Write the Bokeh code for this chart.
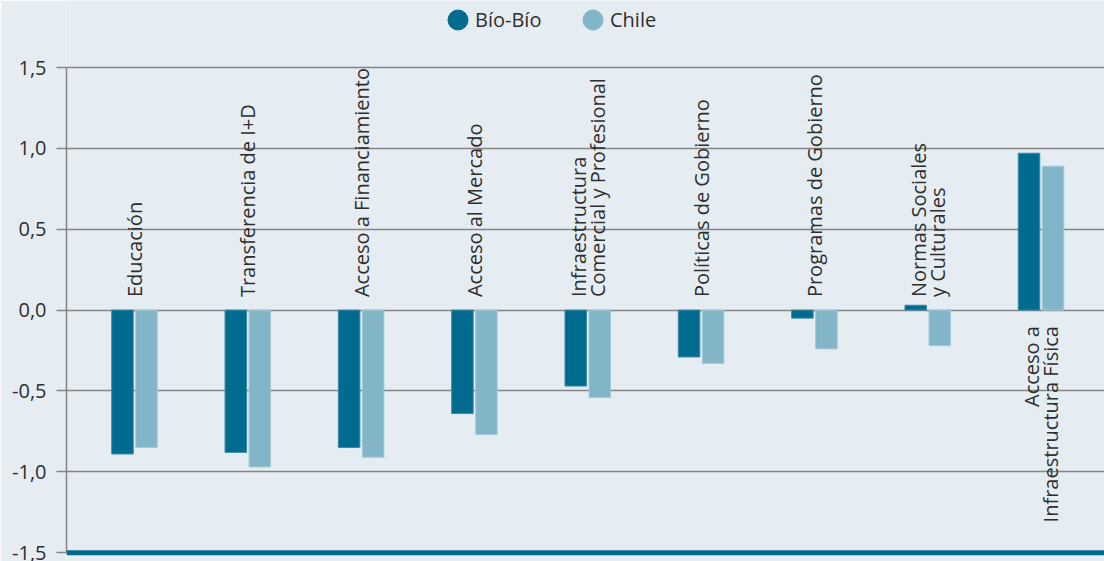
import math
from bokeh.plotting import figure
from bokeh.models import (Range1d, ColumnDataSource, Legend, LegendItem,
                          FixedTicker, Span)
from bokeh.transform import dodge
from bokeh.core.properties import value
from bokeh.embed import file_html
from bokeh.resources import INLINE

# ---------------- data ----------------
categories = [
    "Educación",
    "Transferencia de I+D",
    "Acceso a Financiamiento",
    "Acceso al Mercado",
    "Infraestructura\nComercial y Profesional",
    "Políticas de Gobierno",
    "Programas de Gobierno",
    "Normas Sociales\ny Culturales",
    "Acceso a\nInfraestructura Física",
]
biobio = [-0.89, -0.88, -0.85, -0.64, -0.47, -0.29, -0.05, 0.03, 0.97]
chile = [-0.85, -0.97, -0.91, -0.77, -0.54, -0.33, -0.24, -0.22, 0.89]
series_names = ["Bío-Bío", "Chile"]
y_ticks = [-1.5, -1.0, -0.5, 0.0, 0.5, 1.0, 1.5]
y_tick_labels = ["-1,5", "-1,0", "-0,5", "0,0", "0,5", "1,0", "1,5"]

# ---------------- style ----------------
BIO_COLOR = "#006B8F"
CHILE_COLOR = "#82B5C7"
BG = "#E5EDF3"
TEXT = "#2E2E2E"
GRID = "#858585"
FONT = "Open Sans"

idx = list(range(len(categories)))
src = ColumnDataSource(dict(x=idx, cat=categories, bio=biobio, chile=chile))

above = [i for i in idx if biobio[i] + chile[i] < 0]
below = [i for i in idx if biobio[i] + chile[i] >= 0]
src_above = ColumnDataSource(dict(x=above, y=[0] * len(above),
                                  cat=[categories[i] for i in above]))
src_below = ColumnDataSource(dict(x=below, y=[0] * len(below),
                                  cat=[categories[i] for i in below]))

p = figure(width=1104, height=561,
           x_range=Range1d(-0.6, 8.56), y_range=Range1d(-1.53, 1.9144),
           output_backend="svg", toolbar_location=None,
           min_border_left=66, min_border_right=0,
           min_border_top=0, min_border_bottom=4,
           background_fill_color=BG, border_fill_color=BG,
           outline_line_color=None)

p.xaxis.visible = False
p.xgrid.visible = False

ticker = FixedTicker(ticks=y_ticks)
p.yaxis.ticker = ticker
p.yaxis.bounds = (min(y_ticks), max(y_ticks))
p.yaxis.major_label_overrides = dict(zip(y_ticks, y_tick_labels))
p.yaxis.major_tick_out = 10
p.yaxis.major_tick_in = 0
p.yaxis.minor_tick_line_color = None
p.yaxis.axis_line_color = GRID
p.yaxis.axis_line_width = 1.5
p.yaxis.major_tick_line_color = GRID
p.yaxis.major_tick_line_width = 1.5
p.yaxis.major_label_standoff = 10
p.yaxis.major_label_text_font = FONT
p.yaxis.major_label_text_font_size = "20px"
p.yaxis.major_label_text_color = TEXT
p.ygrid.ticker = ticker
p.ygrid.grid_line_color = GRID
p.ygrid.grid_line_width = 1.5

p.vbar(x=dodge("x", -0.106), top="bio", bottom=0, width=0.19, source=src,
       fill_color=BIO_COLOR, line_color="#3E8AA6", line_width=1)
p.vbar(x=dodge("x", 0.106), top="chile", bottom=0, width=0.19, source=src,
       fill_color=CHILE_COLOR, line_color="#A3CAD8", line_width=1)

p.add_layout(Span(location=min(y_ticks), dimension="width",
                  line_color=BIO_COLOR, line_width=5))

common = dict(angle=math.pi / 2, text_baseline="middle",
              text_font=value(FONT), text_font_size="20px",
              text_color=TEXT, text_line_height=0.72)
p.text(x="x", y="y", text="cat", source=src_above, text_align="left",
       y_offset=-13, **common)
p.text(x="x", y="y", text="cat", source=src_below, text_align="right",
       y_offset=16, **common)

# legend proxies (not visible in the plot area)
nan = float("nan")
r_bio = p.ellipse(x=[nan], y=[nan], width=20, height=20,
                  width_units="screen", height_units="screen",
                  fill_color=BIO_COLOR, line_color=BIO_COLOR)
r_chile = p.ellipse(x=[nan], y=[nan], width=20, height=20,
                    width_units="screen", height_units="screen",
                    fill_color=CHILE_COLOR, line_color=CHILE_COLOR)

legend = Legend(items=[LegendItem(label=series_names[0], renderers=[r_bio]),
                       LegendItem(label=series_names[1], renderers=[r_chile])],
                location=(379, 524), orientation="horizontal",
                glyph_width=25, glyph_height=25, label_standoff=5,
                spacing=30, padding=0, margin=0, label_width=75,
                border_line_color=None, background_fill_alpha=0,
                label_text_font=FONT, label_text_font_size="20px",
                label_text_color=TEXT)
p.add_layout(legend)

open("out.html", "w").write(file_html(p, INLINE))
